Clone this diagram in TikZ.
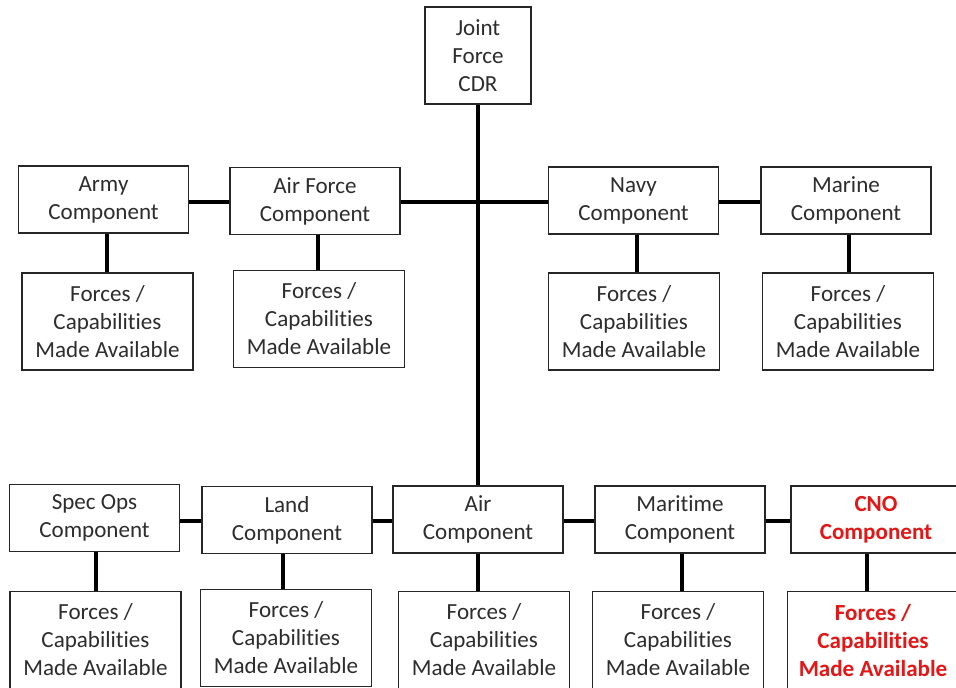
\documentclass[tikz,border=0pt]{standalone}
\usepackage{fontspec}
\setmainfont{Carlito}[Ligatures=NoCommon]
\definecolor{txt}{RGB}{45,45,45}
\definecolor{cnored}{RGB}{228,22,22}
\begin{document}
\begin{tikzpicture}[x=0.75pt,y=-0.75pt,
  base/.style={draw=black!85, line width=1pt, fill=white, inner sep=0pt, align=center,
    text=txt, font=\fontsize{17.3pt}{21pt}\selectfont},
  compbox/.style={base, minimum width=127.5pt, minimum height=50.25pt},
  forcebox/.style={base, minimum width=128.25pt, minimum height=72.75pt},
  redtext/.style={text=cnored, font=\fontsize{17.3pt}{21pt}\selectfont\bfseries},
  link/.style={line width=3pt, black}]
\clip (0,0) rectangle (956,687);
\fill[white] (0,0) rectangle (956,687);

\node[base, minimum width=79.5pt, minimum height=72.75pt] (jfc) at (478,55.5) {Joint\\Force\\CDR};

% top row
\node[compbox] (army) at (103.5,199.5) {Army\\Component};
\node[compbox] (af) at (315,201) {Air Force\\Component};
\node[compbox] (navy) at (633.5,200.5) {Navy\\Component};
\node[compbox] (marine) at (846,200.5) {Marine\\Component};

\node[forcebox] (armyf) at (107.5,321.5) {Forces /\\Capabilities\\Made Available};
\node[forcebox] (aff) at (319,319) {Forces /\\Capabilities\\Made Available};
\node[forcebox] (navyf) at (634,321.5) {Forces /\\Capabilities\\Made Available};
\node[forcebox] (marinef) at (848,321.5) {Forces /\\Capabilities\\Made Available};

% bottom row
\node[compbox] (spec) at (94.5,518) {Spec Ops\\Component};
\node[compbox] (land) at (287,520) {Land\\Component};
\node[compbox] (air) at (478,519.5) {Air\\Component};
\node[compbox] (mar) at (680,519.5) {Maritime\\Component};
\node[compbox, redtext] (cno) at (876,519.5) {CNO\\Component};

\node[forcebox] (specf) at (95.5,640) {Forces /\\Capabilities\\Made Available};
\node[forcebox] (landf) at (286,638) {Forces /\\Capabilities\\Made Available};
\node[forcebox] (airf) at (484,640) {Forces /\\Capabilities\\Made Available};
\node[forcebox] (marf) at (678,640) {Forces /\\Capabilities\\Made Available};
\node[forcebox, redtext] (cnof) at (873,640) {Forces /\\Capabilities\\Made Available};

% connectors
\draw[link] (jfc.south) -- (air.north);
\draw[link] (army.east |- 0,202) -- (af.west |- 0,202);
\draw[link] (af.east |- 0,202) -- (navy.west |- 0,202);
\draw[link] (navy.east |- 0,202) -- (marine.west |- 0,202);

\draw[link] ([xshift=2.6pt]army.south) -- ([xshift=2.6pt]army.south |- armyf.north);
\draw[link] ([xshift=2.25pt]af.south) -- ([xshift=2.25pt]af.south |- aff.north);
\draw[link] ([xshift=2.6pt]navy.south) -- ([xshift=2.6pt]navy.south |- navyf.north);
\draw[link] ([xshift=2.25pt]marine.south) -- ([xshift=2.25pt]marine.south |- marinef.north);

\draw[link] (spec.east |- 0,521) -- (land.west |- 0,521);
\draw[link] (land.east |- 0,521) -- (air.west |- 0,521);
\draw[link] (air.east |- 0,521) -- (mar.west |- 0,521);
\draw[link] (mar.east |- 0,521) -- (cno.west |- 0,521);

\draw[link] ([xshift=1.1pt]spec.south) -- ([xshift=1.1pt]spec.south |- specf.north);
\draw[link] ([xshift=-3pt]land.south) -- ([xshift=-3pt]land.south |- landf.north);
\draw[link] (air.south) -- (air.south |- airf.north);
\draw[link] ([xshift=1.5pt]mar.south) -- ([xshift=1.5pt]mar.south |- marf.north);
\draw[link] ([xshift=-6.75pt]cno.south) -- ([xshift=-6.75pt]cno.south |- cnof.north);
\end{tikzpicture}
\end{document}
